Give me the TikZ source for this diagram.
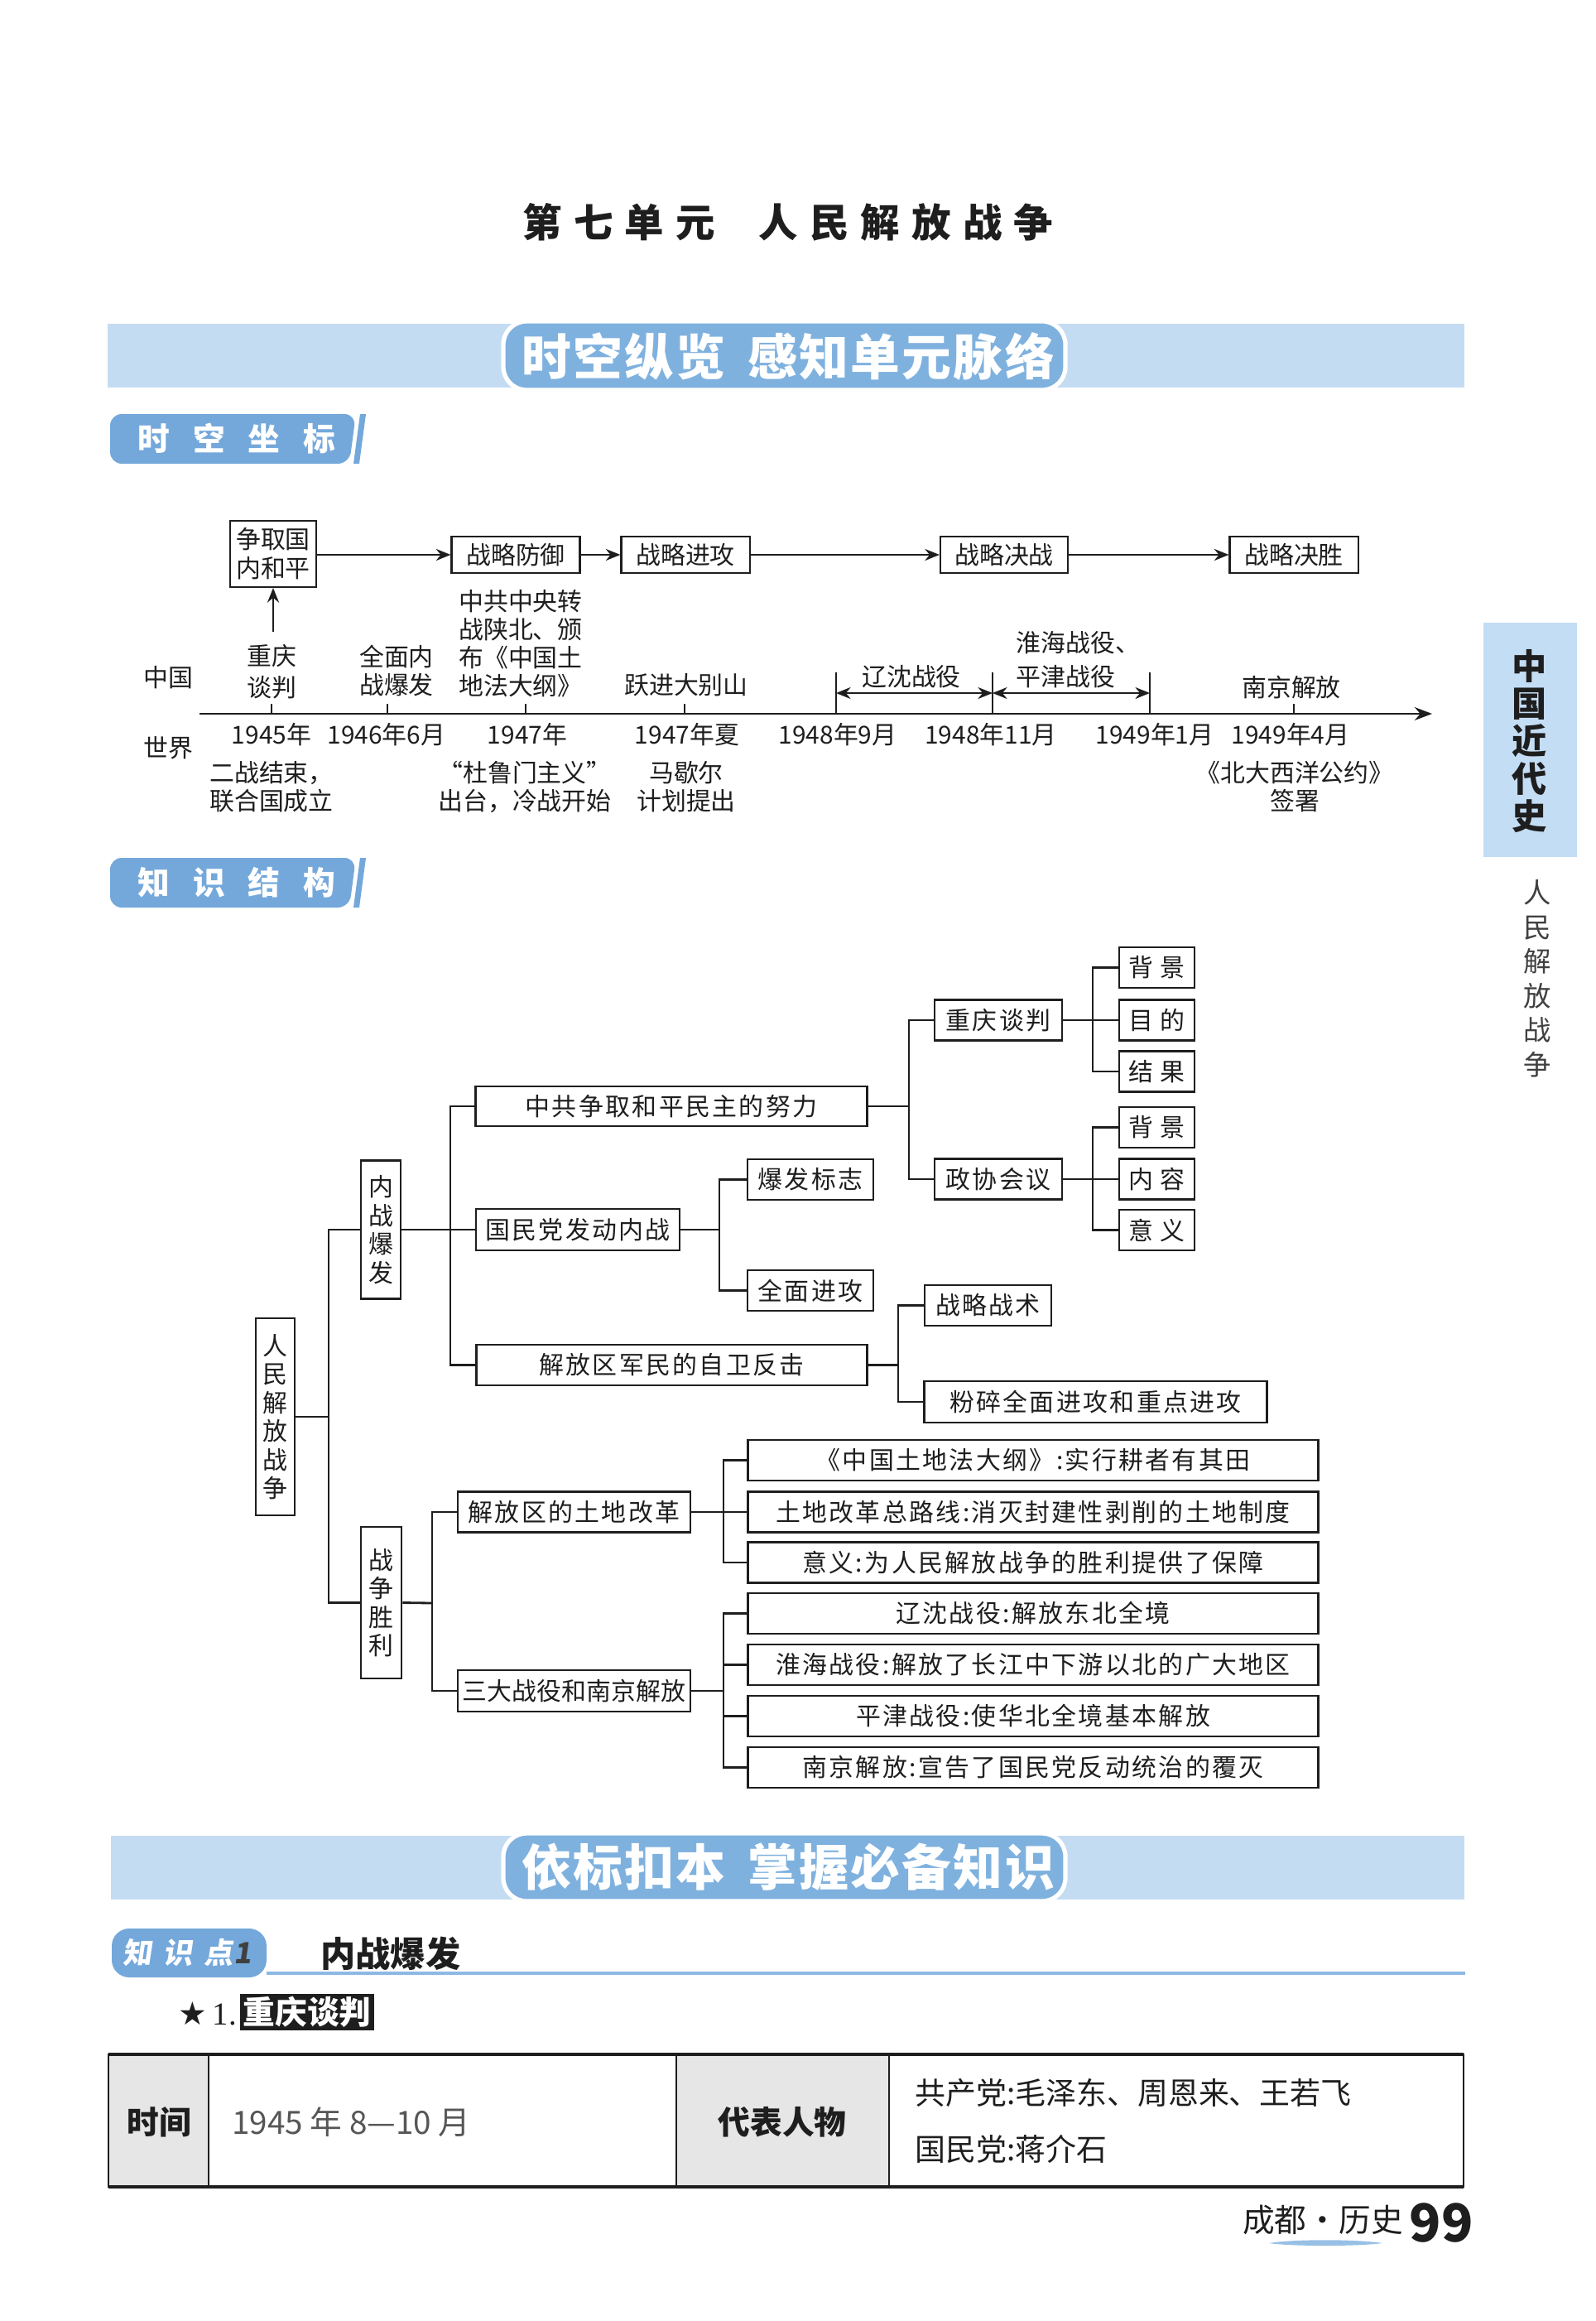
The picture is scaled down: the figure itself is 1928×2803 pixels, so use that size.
\documentclass[tikz,border=0pt]{standalone}
\usepackage{fontspec}
\setmainfont{Noto Sans CJK SC}
\newfontfamily\symf{DejaVu Sans}
\newfontfamily\serf{Liberation Serif}
\usetikzlibrary{arrows.meta}
\definecolor{bnl}{HTML}{C4DCF2}
\definecolor{bnd}{HTML}{7FB1DF}
\definecolor{lab}{HTML}{74A8DB}
\definecolor{tabc}{HTML}{C3DDF4}
\definecolor{gcell}{HTML}{E6E6E6}
\definecolor{ink}{HTML}{1E1E1E}
\definecolor{uline}{HTML}{8DB8E2}
\newcommand\tlf{\fontsize{8.5pt}{9.7pt}\selectfont}
\newcommand\trf{\fontsize{8.5pt}{9.8pt}\selectfont\addfontfeature{LetterSpace=8}}
\newcommand\vtf{\fontsize{8.5pt}{9.8pt}\selectfont}
\begin{document}
\begin{tikzpicture}[x=0.01cm,y=-0.01cm,
  tl/.style={draw=ink, line width=0.6pt, inner sep=0pt, font=\tlf, text=ink},
  tb/.style={draw=ink, line width=0.8pt, inner sep=0pt, font=\trf, text=ink},
  vb/.style={draw=ink, line width=0.8pt, inner sep=0pt, font=\vtf, text=ink, align=center},
  lbl/.style={inner sep=0pt, font=\tlf, align=center, text=ink},
  ln/.style={draw=ink, line width=0.8pt},
  tln/.style={draw=ink, line width=0.6pt},
  ar/.style={draw=ink, line width=0.6pt, -{Stealth[length=5pt,width=4pt]}},
  dar/.style={draw=ink, line width=0.6pt, {Stealth[length=5pt,width=4pt]}-{Stealth[length=5pt,width=4pt]}},
  bigbar/.style={fill=bnl},
  hdr/.style={font=\fontsize{17pt}{19pt}\selectfont\bfseries\addfontfeature{LetterSpace=4}, text=white},
  labtxt/.style={font=\fontsize{11pt}{12pt}\selectfont\bfseries\addfontfeature{LetterSpace=72}, text=white},
]
\useasboundingbox (0,0) rectangle (1928,2803);
\fill[white] (0,0) rectangle (1928,2803);

% ---------- title ----------
\node[font=\fontsize{13.5pt}{15pt}\selectfont\bfseries\addfontfeature{LetterSpace=30}, text=ink] (title) at (952,268) {第七单元\hspace{1.1em}人民解放战争};

% ---------- banner 1 ----------
\fill[bigbar] (130,391) rectangle (1769,468);
\draw[white, line width=1.5pt, fill=bnd, rounded corners=8pt] (608,388) rectangle (1287,471);
\node[hdr] (ban1) at (952,430) {时空纵览\hspace{0.45em}感知单元脉络};

% ---------- label 时空坐标 ----------
\fill[lab, rounded corners=4pt] (133,500) -- (430,500) -- (422,560) -- (133,560) -- cycle;
\fill[lab] (435,500) -- (442,500) -- (434,560) -- (427,560) -- cycle;
\node[labtxt] (lab1) at (286,530) {时空坐标};

% ---------- timeline boxes ----------
\node[tl, minimum width=1.04cm, minimum height=0.80cm, align=center, font=\fontsize{8.5pt}{10pt}\selectfont] (p0) at (330,669) {争取国\\内和平};
\node[tl, minimum width=1.55cm, minimum height=0.44cm] (p1) at (623,670) {战略防御};
\node[tl, minimum width=1.55cm, minimum height=0.44cm] (p2) at (828,670) {战略进攻};
\node[tl, minimum width=1.54cm, minimum height=0.44cm] (p3) at (1213,670) {战略决战};
\node[tl, minimum width=1.55cm, minimum height=0.44cm] (p4) at (1563,670) {战略决胜};
\draw[ar] (p0.east |- p1.west) -- (p1.west);
\draw[ar] (p1.east) -- (p2.west);
\draw[ar] (p2.east) -- (p3.west);
\draw[ar] (p3.east) -- (p4.west);

% axis
\coordinate (ax0) at (241,862);
\coordinate (ax1) at (1730,862);
\draw[draw=ink, line width=0.8pt, -{Stealth[length=6pt,width=4.5pt]}] (ax0) -- (ax1);
\foreach \n/\x in {k1/328,k2/468,k3/635,k4/827,k8/1563} {\coordinate (\n) at (\x,862); \draw[tln] (\n) -- ++(0,-12);}
\foreach \n/\x in {k5/1010,k6/1199,k7/1389} {\coordinate (\n) at (\x,862); \draw[tln] (\n) -- ++(0,-50);}
\coordinate (m1) at (1010,837);
\coordinate (m2) at (1199,837);
\coordinate (m3) at (1389,837);
\draw[dar] (m1) -- (m2);
\draw[dar] (m2) -- (m3);
\coordinate (cq) at (330,763);
\draw[ar] (cq) -- (p0.south);

% timeline labels (China)
\node[lbl] (zg) at (203,818) {中国};
\node[lbl] (sj) at (203,903) {世界};
\node[lbl, font=\fontsize{8.5pt}{10.8pt}\selectfont] (cqtp) at (328,811) {重庆\\谈判};
\node[lbl] (qmnz) at (479,810) {全面内\\战爆发};
\node[lbl] (zgzy) at (629,777) {中共中央转\\战陕北、颁\\布《中国土\\地法大纲》};
\node[lbl] (yj) at (829,827) {跃进大别山};
\node[lbl] (ls) at (1101,817) {辽沈战役};
\node[lbl, align=left, anchor=west, font=\fontsize{8.5pt}{11.6pt}\selectfont] (hh) at (1227,797) {淮海战役、\\平津战役};
\node[lbl] (nj) at (1560,830) {南京解放};

% dates
\foreach \n/\x/\t in {d1/328/1945年, d2/467/1946年6月, d3/637/1947年, d4/830/1947年夏, d5/1012/1948年9月, d6/1197/1948年11月, d7/1395/1949年1月, d8/1559/1949年4月}
  {\node[lbl] (\n) at (\x,887) {\t};}

% world
\node[lbl] (w1) at (328,950) {二战结束，\\联合国成立};
\node[lbl] (w2) at (634,950) {“杜鲁门主义”\\出台，冷战开始};
\node[lbl] (w3) at (829,950) {马歇尔\\计划提出};
\node[lbl] (w4) at (1564,950) {《北大西洋公约》\\签署};

% ---------- label 知识结构 ----------
\fill[lab, rounded corners=4pt] (133,1036) -- (430,1036) -- (422,1096) -- (133,1096) -- cycle;
\fill[lab] (435,1036) -- (442,1036) -- (434,1096) -- (427,1096) -- cycle;
\node[labtxt] (lab2) at (286,1066) {知识结构};

% ---------- tree ----------
\node[vb, minimum width=0.47cm, minimum height=2.38cm] (root) at (332.5,1711) {人\\民\\解\\放\\战\\争};
\node[vb, minimum width=0.48cm, minimum height=1.67cm] (a1) at (460,1485) {内\\战\\爆\\发};
\node[vb, minimum width=0.49cm, minimum height=1.83cm] (a2) at (460.5,1935.5) {战\\争\\胜\\利};

\node[tb, minimum width=4.72cm, minimum height=0.48cm] (b1) at (811,1336) {中共争取和平民主的努力};
\node[tb, minimum width=2.46cm, minimum height=0.50cm] (b2) at (698,1485) {国民党发动内战};
\node[tb, minimum width=4.71cm, minimum height=0.49cm] (b3) at (811.5,1648.5) {解放区军民的自卫反击};

\node[tb, minimum width=1.52cm, minimum height=0.49cm] (c1) at (979,1424.5) {爆发标志};
\node[tb, minimum width=1.52cm, minimum height=0.49cm] (c2) at (979,1558.5) {全面进攻};

\node[tb, minimum width=1.54cm, minimum height=0.49cm] (dd1) at (1206,1232) {重庆谈判};
\node[tb, minimum width=1.54cm, minimum height=0.49cm] (dd2) at (1206,1424) {政协会议};

\node[tb, minimum width=0.91cm, minimum height=0.49cm] (e1) at (1397.5,1168.5) {背\hspace{0.25em}景};
\node[tb, minimum width=0.91cm, minimum height=0.49cm] (e2) at (1397.5,1232) {目\hspace{0.25em}的};
\node[tb, minimum width=0.91cm, minimum height=0.49cm] (e3) at (1397.5,1294) {结\hspace{0.25em}果};
\node[tb, minimum width=0.91cm, minimum height=0.49cm] (e4) at (1397.5,1361.5) {背\hspace{0.25em}景};
\node[tb, minimum width=0.91cm, minimum height=0.49cm] (e5) at (1397.5,1424) {内\hspace{0.25em}容};
\node[tb, minimum width=0.91cm, minimum height=0.49cm] (e6) at (1397.5,1485.5) {意\hspace{0.25em}义};

\node[tb, minimum width=1.53cm, minimum height=0.49cm] (f1) at (1193.5,1576.5) {战略战术};
\node[tb, minimum width=4.13cm, minimum height=0.50cm] (f2) at (1323.5,1693) {粉碎全面进攻和重点进攻};

\node[tb, minimum width=2.81cm, minimum height=0.49cm] (g1) at (693.5,1826) {解放区的土地改革};
\node[tb, minimum width=2.81cm, minimum height=0.50cm, font=\fontsize{8.5pt}{9.8pt}\selectfont] (g2) at (693.5,2042) {三大战役和南京解放};

\node[tb, minimum width=6.88cm, minimum height=0.49cm] (h1) at (1248,1763.5) {《中国土地法大纲》:实行耕者有其田};
\node[tb, minimum width=6.88cm, minimum height=0.49cm] (h2) at (1248,1826) {土地改革总路线:消灭封建性剥削的土地制度};
\node[tb, minimum width=6.88cm, minimum height=0.49cm] (h3) at (1248,1887) {意义:为人民解放战争的胜利提供了保障};
\node[tb, minimum width=6.88cm, minimum height=0.49cm] (h4) at (1248,1948.5) {辽沈战役:解放东北全境};
\node[tb, minimum width=6.88cm, minimum height=0.49cm] (h5) at (1248,2010.5) {淮海战役:解放了长江中下游以北的广大地区};
\node[tb, minimum width=6.88cm, minimum height=0.49cm] (h6) at (1248,2072.5) {平津战役:使华北全境基本解放};
\node[tb, minimum width=6.88cm, minimum height=0.49cm] (h7) at (1248,2134.5) {南京解放:宣告了国民党反动统治的覆灭};

% junctions
\coordinate (jR) at (397,1711);
\coordinate (jC) at (544,1485);
\coordinate (jD) at (869,1485);
\coordinate (jA) at (1098,1336);
\coordinate (jB) at (1320,1232);
\coordinate (jB2) at (1320,1424);
\coordinate (jE) at (1085,1648.5);
\coordinate (jG) at (522,1936);
\coordinate (jH1) at (874,1826);
\coordinate (jH2) at (874,2042);

\draw[ln] (root.east) -- (jR);
\draw[ln] (a1.west) -| (jR) |- (a2.west);
\draw[ln] (a1.east) -- (b2.west);
\draw[ln] (b1.west) -| (jC) |- (b3.west);
\draw[ln] (b2.east) -- (jD);
\draw[ln] (c1.west) -| (jD) |- (c2.west);
\draw[ln] (b1.east) -- (jA);
\draw[ln] (dd1.west) -| (jA) |- (dd2.west);
\draw[ln] (dd1.east) -- (e2.west);
\draw[ln] (e1.west) -| (jB) |- (e3.west);
\draw[ln] (dd2.east) -- (e5.west);
\draw[ln] (e4.west) -| (jB2) |- (e6.west);
\draw[ln] (b3.east) -- (jE);
\draw[ln] (f1.west) -| (jE) |- (f2.west);
\draw[ln] (a2.east) -- (jG);
\draw[ln] (g1.west) -| (jG) |- (g2.west);
\draw[ln] (g1.east) -- (h2.west);
\draw[ln] (h1.west) -| (jH1) |- (h3.west);
\draw[ln] (g2.east) -- (jH2);
\draw[ln] (h4.west) -| (jH2) |- (h7.west);
\draw[ln] (h5.west) -- (h5.west -| jH2);
\draw[ln] (h6.west) -- (h6.west -| jH2);

% ---------- banner 2 ----------
\fill[bigbar] (134,2217) rectangle (1769,2294);
\draw[white, line width=1.5pt, fill=bnd, rounded corners=8pt] (608,2214) rectangle (1287,2296);
\node[hdr] (ban2) at (952,2255) {依标扣本\hspace{0.45em}掌握必备知识};

% ---------- 知识点1 ----------
\fill[lab, rounded corners=6pt] (135,2329) rectangle (322,2388);
\node[font=\fontsize{10pt}{11pt}\selectfont\bfseries\addfontfeature{LetterSpace=40,FakeSlant=0.15}, text=white, anchor=west] (zsd) at (136,2358) {知识点\textcolor{ink!85}{1}};
\draw[uline, line width=1pt] (322,2383) -- (1770,2383);
\node[font=\fontsize{12pt}{13pt}\selectfont\bfseries, text=ink, anchor=west] (nzbf) at (375,2359) {内战爆发};

\node[font=\fontsize{11pt}{12pt}\selectfont, text=ink, anchor=west, inner sep=0pt] (star) at (215,2432) {{\symf ★}\,{\serf 1.}};
\node[fill=ink, text=white, font=\fontsize{11pt}{12pt}\selectfont\bfseries, inner sep=1pt, minimum width=1.58cm, minimum height=0.40cm] (cqtitle) at (371,2430) {重庆谈判};

% ---------- table ----------
\fill[gcell] (131,2480) rectangle (252,2642);
\fill[gcell] (817,2480) rectangle (1074,2642);
\draw[ink, line width=0.5pt] (131,2480) -- (131,2642);
\draw[ink, line width=0.4pt] (252,2480) -- (252,2642);
\draw[ink, line width=0.4pt] (817,2480) -- (817,2642);
\draw[ink, line width=0.4pt] (1074,2480) -- (1074,2642);
\draw[ink, line width=0.5pt] (1768,2480) -- (1768,2642);
\draw[ink, line width=1.4pt] (131,2481) -- (1768,2481);
\draw[ink, line width=1.0pt] (131,2641) -- (1768,2641);
\node[font=\fontsize{11pt}{12pt}\selectfont\bfseries, text=ink] (sjc) at (192,2563) {时间};
\node[font=\fontsize{11pt}{12pt}\selectfont, text=ink!75, anchor=west] (sjv) at (268,2563) {1945 年 8—10 月};
\node[font=\fontsize{11pt}{12pt}\selectfont\bfseries, text=ink] (dbc) at (945,2563) {代表人物};
\node[font=\fontsize{10.5pt}{12pt}\selectfont, text=ink, anchor=west] (gcd) at (1093,2527) {共产党:毛泽东、周恩来、王若飞};
\node[font=\fontsize{10.5pt}{12pt}\selectfont, text=ink, anchor=west] (gmd) at (1093,2595) {国民党:蒋介石};

% ---------- footer ----------
\fill[bnd, opacity=0.8] (1533,2709) .. controls (1560,2704) and (1640,2704) .. (1670,2709) .. controls (1640,2713) and (1560,2713) .. (1533,2709) -- cycle;
\node[font=\fontsize{11pt}{12pt}\selectfont, text=ink] (ft) at (1598,2681) {成都·历史};
\node[font=\fontsize{18pt}{19pt}\selectfont\bfseries, text=ink] (pg) at (1741,2684) {99};

% ---------- side tab ----------
\fill[tabc] (1792,752) rectangle (1905,1035);
\node[align=center, font=\fontsize{12pt}{12.9pt}\selectfont\bfseries, text=ink] (tab1) at (1848,895) {中\\国\\近\\代\\史};
\node[align=center, font=\fontsize{9.5pt}{11.8pt}\selectfont, text=ink!85] (tab2) at (1857,1182) {人\\民\\解\\放\\战\\争};
\end{tikzpicture}
\end{document}
